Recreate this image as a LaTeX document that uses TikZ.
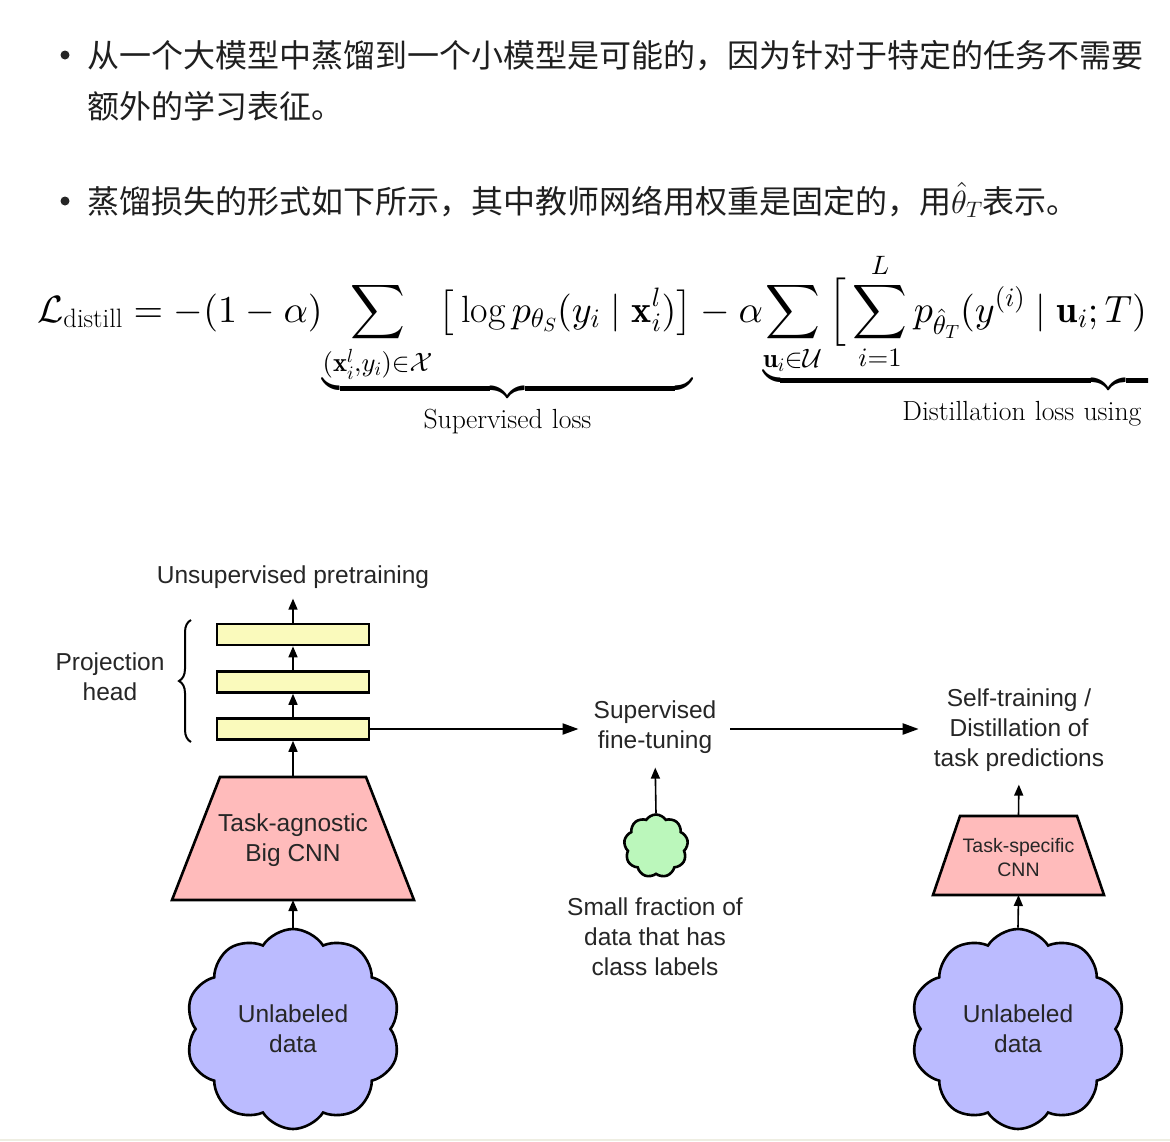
\documentclass[tikz,border=0pt]{standalone}
\usepackage{amsmath,amssymb}
\usepackage{graphicx}
\usepackage{fontspec}
\newfontfamily\cjk{Noto Sans CJK SC}
\newfontfamily\arial{Liberation Sans}
% scalable math fonts with one design size (as in the web rendering)
\DeclareFontShape{OML}{cmm}{m}{it}{<->cmmi10}{\skewchar\font=127 }
\DeclareFontShape{OML}{cmm}{b}{it}{<->cmmib10}{\skewchar\font=127 }
\DeclareFontShape{OMS}{cmsy}{m}{n}{<->cmsy10}{\skewchar\font=48 }
\DeclareFontShape{OMX}{cmex}{m}{n}{<->cmex10}{}
\DeclareFontShape{OT1}{cmr}{m}{n}{<->cmr10}{}
\DeclareFontShape{OT1}{cmr}{bx}{n}{<->cmbx10}{}
\usetikzlibrary{arrows.meta,shapes.symbols,decorations.pathreplacing,calc}
\definecolor{barY}{HTML}{FAFABC}
\definecolor{trapP}{HTML}{FFBBBB}
\definecolor{cloudB}{HTML}{BBBBFF}
\definecolor{cloudG}{HTML}{BBF7BB}
\definecolor{txt}{HTML}{262626}
\definecolor{stripC}{HTML}{EEEEE2}
\newcommand{\bracelabel}[1]{\rule{0pt}{28.5pt}\scalebox{1.04}{$\scriptstyle #1$}}
\tikzset{
  cjkline/.style={font={\cjk\fontsize{32}{40}\selectfont}, text=black!88, inner sep=0pt, anchor=base west},
  bulletdot/.style={circle, fill=black!85, minimum size=9pt, inner sep=0pt},
  sans/.style={font={\arial\fontsize{24.5}{30}\selectfont}, text=txt, align=center, inner sep=0pt},
  smallsans/.style={font={\arial\fontsize{19.5}{24}\selectfont}, text=txt, align=center, inner sep=0pt},
  bar/.style={draw=black, line width=2.6pt, fill=barY, minimum width=152pt, minimum height=21pt, inner sep=0pt},
  box/.style={inner sep=0pt, outer sep=0pt},
  trapline/.style={draw=black, line width=2.6pt, fill=trapP, line join=miter},
  up/.style={line width=1.6pt, -{Triangle[length=11pt,width=9pt]}},
  flow/.style={line width=2.2pt, -{Triangle[length=16pt,width=11pt]}},
  puff/.style={cloud, cloud puffs=10, cloud puff arc=115, draw=black, line width=2.6pt, inner sep=0pt, align=center,
               font={\arial\fontsize{24.5}{30}\selectfont}, text=txt},
  bracestyle/.style={line width=2pt, decorate, decoration={brace, amplitude=12pt}}
}
\begin{document}
\begin{tikzpicture}[x=1pt,y=-1pt]
\useasboundingbox (0,0) rectangle (1170,1141);
\fill[white] (0,0) rectangle (1170,1141);
\fill[stripC] (0,1138.5) rectangle (1170,1141);

% bullets
\node[bulletdot] (d1) at (65,55) {};
\node[cjkline] (l1) at (87,67) {从一个大模型中蒸馏到一个小模型是可能的，因为针对于特定的任务不需要};
\node[cjkline] (l2) at (87,118) {额外的学习表征。};
\node[bulletdot] (d2) at (65,201) {};
\node[cjkline] (l3) at (87,213) {蒸馏损失的形式如下所示，其中教师网络用权重是固定的，用$\hat{\theta}_T$表示。};

% formula (clipped on the right as in the page)
\begin{scope}
\clip (0,240) rectangle (1148,450);
\node[anchor=base west, inner sep=0pt] (eq) at (37,322) {\fontsize{38}{45.5}\selectfont
$\displaystyle \mathcal{L}_{\mathrm{distill}} = -(1-\alpha){\underbrace{\sum_{(\mathbf{x}_i^l,y_i)\in\mathcal{X}}\big[\log p_{\theta_S}(y_i\mid\mathbf{x}_i^l)\big]}_{\bracelabel{\mathrm{Supervised}\mkern6mu\mathrm{loss}}}} - \alpha{\underbrace{\sum_{\mathbf{u}_i\in\mathcal{U}}\Big[\sum_{i=1}^L p_{\hat{\theta}_T}(y^{(i)}\mid\mathbf{u}_i;T)\log p_{\theta_S}(y^{(i)}\mid\mathbf{u}_i;T)\Big]}_{\bracelabel{\mathrm{Distillation}\mkern6mu\mathrm{loss}\mkern6mu\mathrm{using}\mkern6mu\mathrm{unlabeled}\mkern6mu\mathrm{data}}}}$};
\end{scope}

% left column
\node[sans] (unsup) at (293,577) {Unsupervised pretraining};
\node[bar] (h1) at (293,634.5) {};
\node[bar] (h2) at (293,682) {};
\node[bar] (h3) at (293,729) {};
\node[sans] (proj) at (110,677) {Projection\\head};
\draw[bracestyle] (191,742) -- (191,620);

\node[box, minimum width=242pt, minimum height=123pt] (big) at (293,838.5) {};
\draw[trapline] (big.south west) -- (big.south east) -- ([xshift=-48pt]big.north east) -- ([xshift=48pt]big.north west) -- cycle;
\node[sans] (bigtxt) at (293,840) {Task-agnostic\\Big CNN};

\node[puff, fill=cloudB, minimum width=215pt, minimum height=200pt] (c1) at (293,1029) {Unlabeled\\data};

\draw[up, shorten >=10pt] (h1.north) -- (unsup.south);
\draw[up] (h2.north) -- (h1.south);
\draw[up] (h3.north) -- (h2.south);
\draw[up] (big.north) -- (h3.south);
\draw[up] (c1.north) -- (big.south);

% middle column
\node[sans] (sft) at (655,727) {Supervised\\fine-tuning};
\node[puff, cloud puffs=9, fill=cloudG, minimum width=64pt, minimum height=63pt] (g) at (656,846) {};
\node[sans] (frac) at (655,937) {Small fraction of\\data that has\\class labels};
\draw[up, shorten >=14pt] (g.north) -- (sft.south);

% right column
\node[sans] (st) at (1019,730) {Self-training /\\Distillation of\\task predictions};
\node[box, minimum width=171pt, minimum height=79pt] (ts) at (1018.5,855.5) {};
\draw[trapline] (ts.south west) -- (ts.south east) -- ([xshift=-27pt]ts.north east) -- ([xshift=27pt]ts.north west) -- cycle;
\node[smallsans] (tstxt) at (1018.5,858) {Task-specific\\CNN};
\node[puff, fill=cloudB, minimum width=215pt, minimum height=200pt] (c2) at (1018,1029) {Unlabeled\\data};
\draw[up, shorten >=13pt] (ts.north) -- (st.south);
\draw[up] (c2.north) -- (ts.south);

% horizontal flow
\draw[flow, shorten >=15pt] (h3.east) -- (h3.east -| sft.west);
\draw[flow, shorten <=14pt, shorten >=15pt] (sft.east |- h3.east) -- (st.west |- h3.east);
\end{tikzpicture}
\end{document}
